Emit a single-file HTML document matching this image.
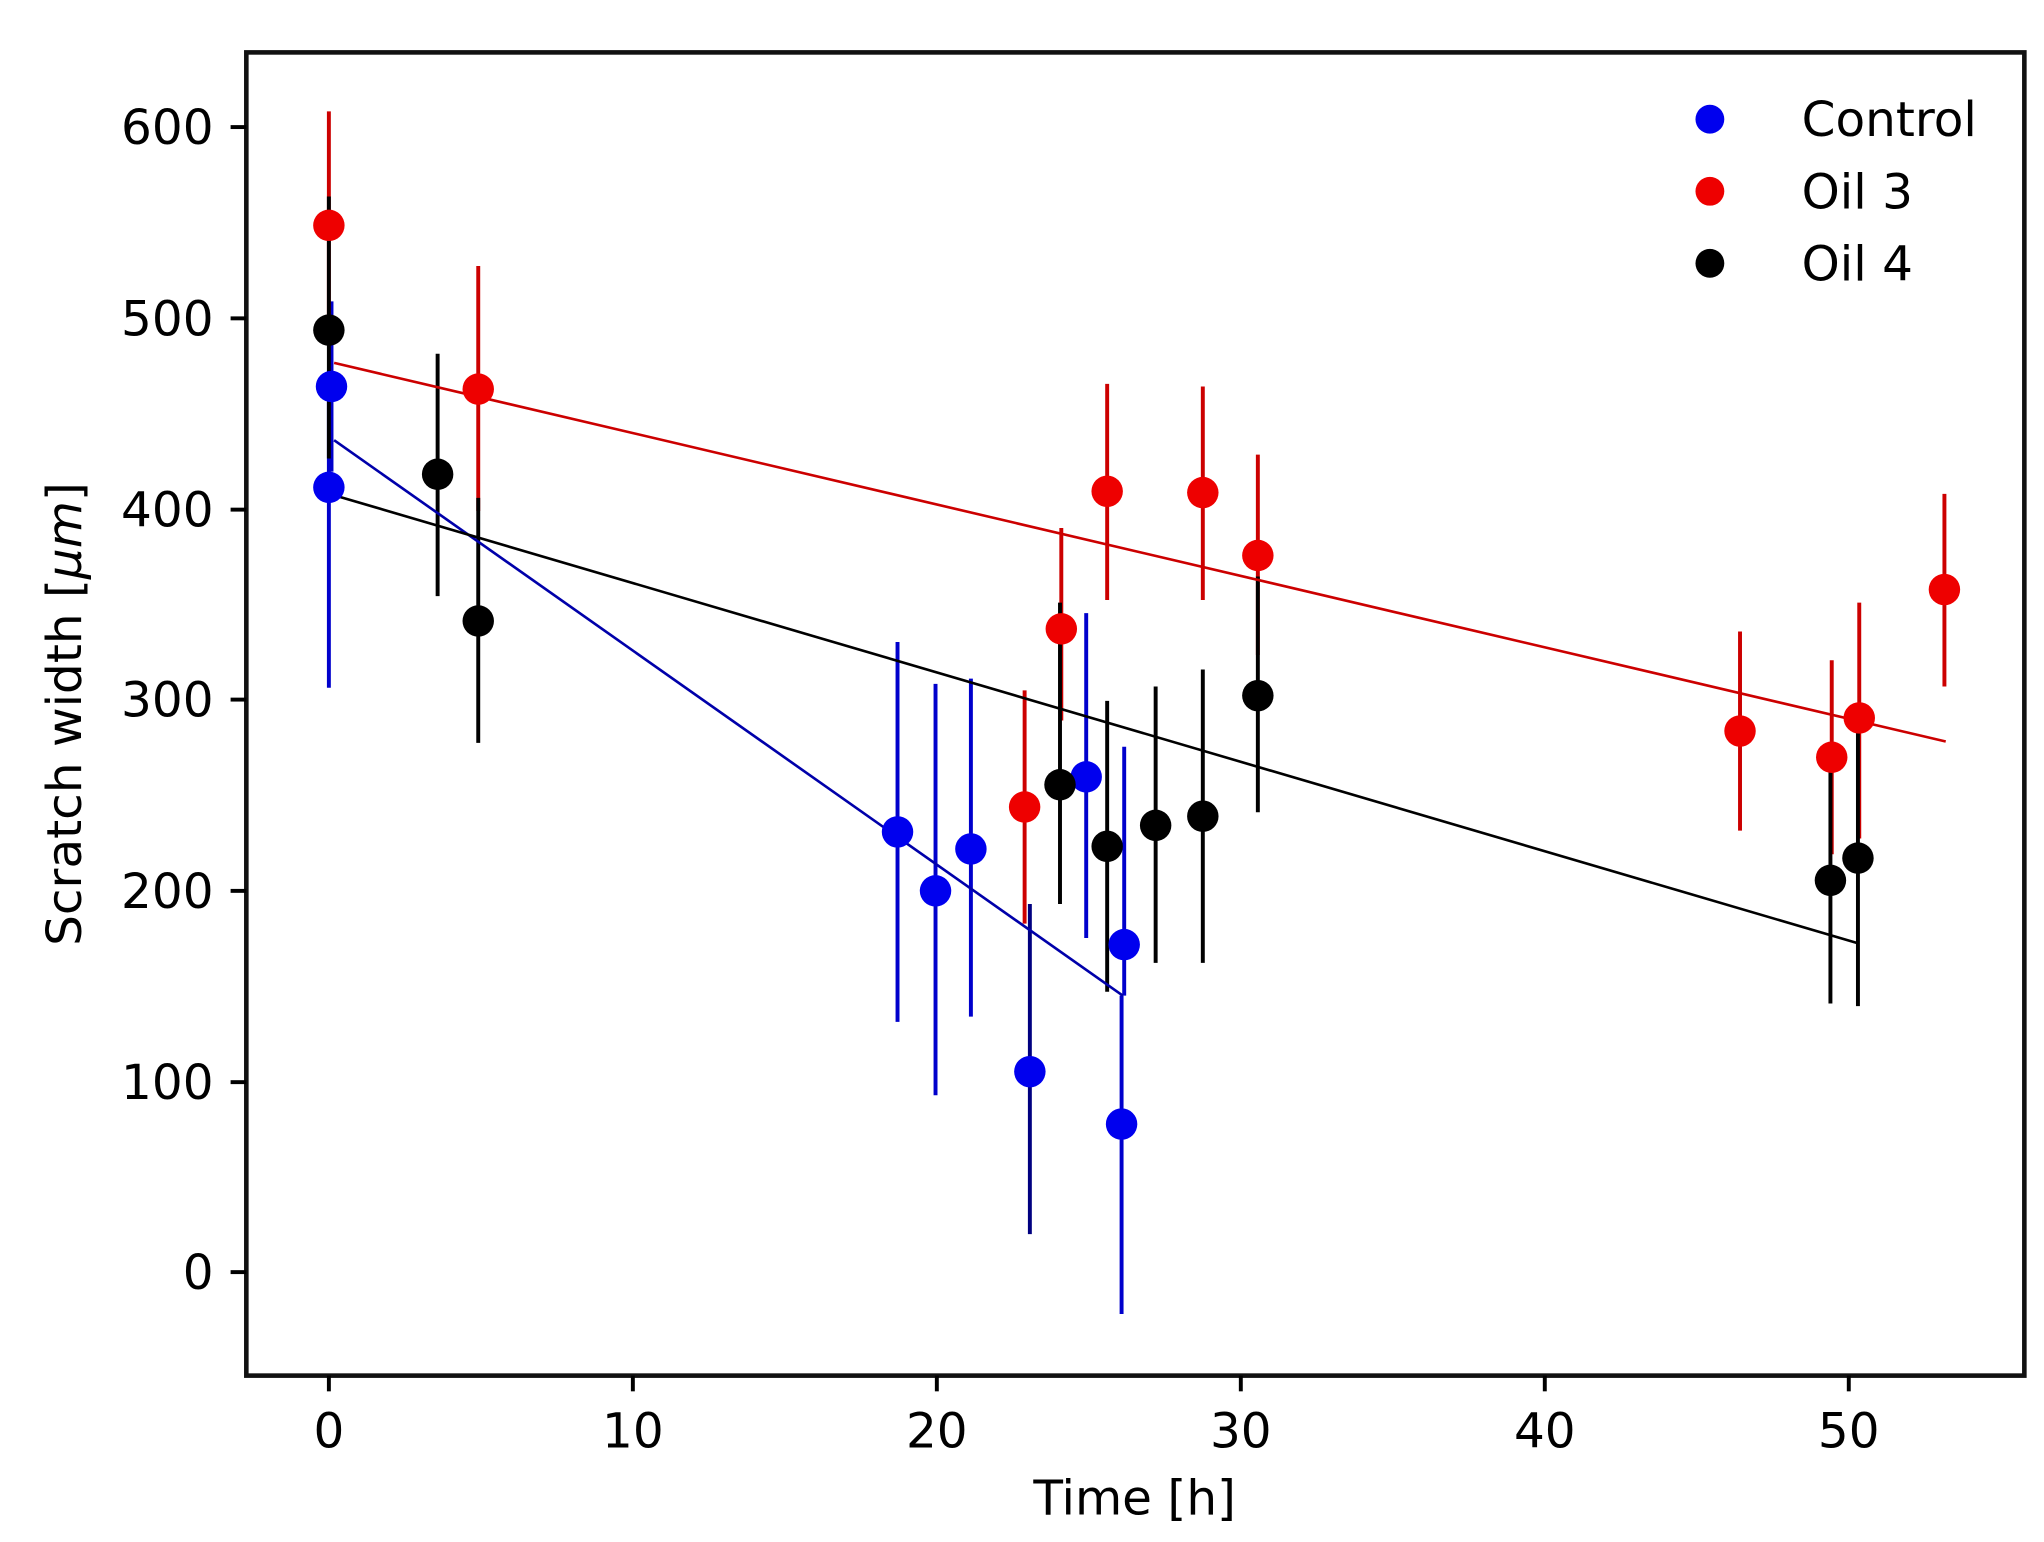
<!DOCTYPE html>
<html><head><style>html,body{margin:0;padding:0;background:#fff}svg{display:block}</style></head>
<body>
<svg width="2044" height="1542" viewBox="0 0 1560 1177" preserveAspectRatio="none" xmlns="http://www.w3.org/2000/svg" font-family="'DejaVu Sans','Liberation Sans',sans-serif">
<rect x="0" y="0" width="1560" height="1177" fill="#fff"/>
<g stroke-width="3">
 <g stroke="#0000cc">
  <line x1="251" y1="307" x2="251" y2="525"/>
  <line x1="253" y1="230" x2="253" y2="360"/>
  <line x1="685" y1="490" x2="685" y2="780"/>
  <line x1="714" y1="522" x2="714" y2="836"/>
  <line x1="741" y1="518" x2="741" y2="776"/>
  <line x1="829" y1="468" x2="829" y2="716"/>
  <line x1="858" y1="570" x2="858" y2="760"/>
  <line x1="856" y1="760" x2="856" y2="1003"/>
 </g>
 <g stroke="#000080"><line x1="786" y1="690" x2="786" y2="942"/></g>
 <g stroke="#cc0000">
  <line x1="251" y1="85" x2="251" y2="260"/>
  <line x1="365" y1="203" x2="365" y2="390"/>
  <line x1="782" y1="527" x2="782" y2="705"/>
  <line x1="810" y1="403" x2="810" y2="550"/>
  <line x1="845" y1="293" x2="845" y2="458"/>
  <line x1="918" y1="295" x2="918" y2="458"/>
  <line x1="960" y1="347" x2="960" y2="500"/>
  <line x1="1328" y1="482" x2="1328" y2="634"/>
  <line x1="1398" y1="504" x2="1398" y2="652"/>
  <line x1="1419" y1="460" x2="1419" y2="640"/>
  <line x1="1484" y1="377" x2="1484" y2="524"/>
 </g>
 <g stroke="#000">
  <line x1="251" y1="150" x2="251" y2="350"/>
  <line x1="334" y1="270" x2="334" y2="455"/>
  <line x1="365" y1="380" x2="365" y2="567"/>
  <line x1="809" y1="460" x2="809" y2="690"/>
  <line x1="845" y1="535" x2="845" y2="757"/>
  <line x1="882" y1="524" x2="882" y2="735"/>
  <line x1="918" y1="511" x2="918" y2="735"/>
  <line x1="960" y1="440" x2="960" y2="620"/>
  <line x1="1397" y1="575" x2="1397" y2="766"/>
  <line x1="1418" y1="556" x2="1418" y2="768"/>
 </g>
</g>
<line x1="255" y1="336" x2="857" y2="760" stroke="#0000aa" stroke-width="2"/>
<line x1="255" y1="277" x2="1485" y2="566" stroke="#cc0000" stroke-width="2"/>
<line x1="255" y1="378" x2="1418" y2="720" stroke="#000" stroke-width="2"/>
<g fill="#0000ee">
 <circle cx="251" cy="372" r="12"/><circle cx="253" cy="295" r="12"/>
 <circle cx="685" cy="635" r="12"/><circle cx="714" cy="680" r="12"/>
 <circle cx="741" cy="648" r="12"/><circle cx="786" cy="818" r="12"/>
 <circle cx="829" cy="593" r="12"/><circle cx="858" cy="721" r="12"/>
 <circle cx="856" cy="858" r="12"/>
</g>
<g fill="#ee0000">
 <circle cx="251" cy="172" r="12"/><circle cx="365" cy="297" r="12"/>
 <circle cx="782" cy="616" r="12"/><circle cx="810" cy="480" r="12"/>
 <circle cx="845" cy="375" r="12"/><circle cx="918" cy="376" r="12"/>
 <circle cx="960" cy="424" r="12"/><circle cx="1328" cy="558" r="12"/>
 <circle cx="1398" cy="578" r="12"/><circle cx="1419" cy="548" r="12"/>
 <circle cx="1484" cy="450" r="12"/>
</g>
<g fill="#000">
 <circle cx="251" cy="252" r="12"/><circle cx="334" cy="362" r="12"/>
 <circle cx="365" cy="474" r="12"/><circle cx="809" cy="599" r="12"/>
 <circle cx="845" cy="646" r="12"/><circle cx="882" cy="630" r="12"/>
 <circle cx="918" cy="623" r="12"/><circle cx="960" cy="531" r="12"/>
 <circle cx="1397" cy="672" r="12"/><circle cx="1418" cy="655" r="12"/>
</g>
<rect x="188" y="40" width="1357" height="1010" fill="none" stroke="#111" stroke-width="3.5"/>
<g stroke="#000" stroke-width="3">
 <line x1="176" y1="97" x2="188" y2="97"/><line x1="176" y1="243" x2="188" y2="243"/>
 <line x1="176" y1="389" x2="188" y2="389"/><line x1="176" y1="534" x2="188" y2="534"/>
 <line x1="176" y1="680" x2="188" y2="680"/><line x1="176" y1="826" x2="188" y2="826"/>
 <line x1="176" y1="971" x2="188" y2="971"/>
 <line x1="251" y1="1050" x2="251" y2="1062"/><line x1="483" y1="1050" x2="483" y2="1062"/>
 <line x1="715" y1="1050" x2="715" y2="1062"/><line x1="947" y1="1050" x2="947" y2="1062"/>
 <line x1="1179" y1="1050" x2="1179" y2="1062"/><line x1="1411" y1="1050" x2="1411" y2="1062"/>
</g>
<g font-size="37" fill="#000" text-anchor="end">
 <text x="163" y="110">600</text><text x="163" y="256">500</text>
 <text x="163" y="402">400</text><text x="163" y="547">300</text>
 <text x="163" y="693">200</text><text x="163" y="839">100</text>
 <text x="163" y="984">0</text>
</g>
<g font-size="37" fill="#000" text-anchor="middle">
 <text x="251" y="1105">0</text><text x="483" y="1105">10</text>
 <text x="715" y="1105">20</text><text x="947" y="1105">30</text>
 <text x="1179" y="1105">40</text><text x="1411" y="1105">50</text>
 <text x="866" y="1156">Time [h]</text>
 <text transform="translate(62,545) rotate(-90)">Scratch width [<tspan font-style="italic">μm</tspan>]</text>
</g>
<circle cx="1305" cy="91" r="11" fill="#0000ee"/>
<circle cx="1305" cy="146" r="11" fill="#ee0000"/>
<circle cx="1305" cy="201" r="11" fill="#000"/>
<g font-size="37" fill="#000">
 <text x="1375" y="104">Control</text>
 <text x="1375" y="159">Oil 3</text>
 <text x="1375" y="214">Oil 4</text>
</g>
</svg>
</body></html>
